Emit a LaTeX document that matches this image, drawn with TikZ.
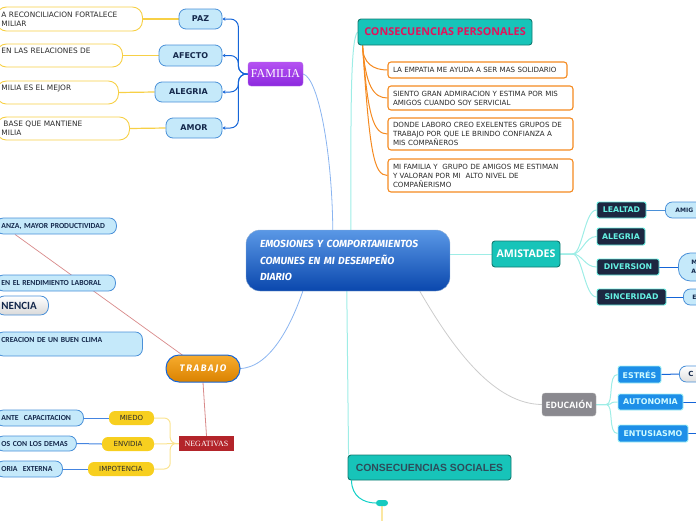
\documentclass[tikz,border=0pt]{standalone}
\usepackage{fontspec}
\setmainfont{DejaVu Sans}
\newfontfamily\serf{Liberation Serif}
\newfontfamily\arialf{Liberation Sans}
\newfontfamily\opens{Open Sans}
\newfontfamily\carl{Carlito}
\newfontfamily\fira{Fira Sans}
\usetikzlibrary{calc,arrows.meta}
\pgfdeclarelayer{bg}
\pgfsetlayers{bg,main}
\definecolor{famblue}{HTML}{1565D8}
\definecolor{lbfill}{HTML}{C5E9FA}
\definecolor{lbord}{HTML}{4A90D8}
\definecolor{navy}{HTML}{14284B}
\definecolor{ybord}{HTML}{F7D046}
\definecolor{purtop}{HTML}{B552F2}
\definecolor{purbot}{HTML}{8C28DE}
\definecolor{teal}{HTML}{17C4B9}
\definecolor{tealbord}{HTML}{127A70}
\definecolor{crimson}{HTML}{E3125B}
\definecolor{orng}{HTML}{F58A20}
\definecolor{navybox}{HTML}{1D2741}
\definecolor{cyanb}{HTML}{66F2E4}
\definecolor{edublue}{HTML}{1D8FE8}
\definecolor{eduborder}{HTML}{A8F4F4}
\definecolor{edutext}{HTML}{D0FBFF}
\definecolor{greybox}{HTML}{8A898F}
\definecolor{trabtop}{HTML}{F7AC2E}
\definecolor{trabbot}{HTML}{DA8200}
\definecolor{negred}{HTML}{B3242A}
\definecolor{yel}{HTML}{F7CF1F}
\definecolor{cstext}{HTML}{2E4C5A}
\definecolor{dtext}{HTML}{2A2A2A}
\definecolor{cyline}{HTML}{9EEDE6}
\definecolor{bluline}{HTML}{8AB4F0}
\definecolor{redline}{HTML}{D88A8A}
\definecolor{cenTop}{HTML}{5A98E6}
\definecolor{cenBot}{HTML}{0A47AD}
\tikzset{
  x=1pt, y=-1pt,
  every node/.style={inner sep=0pt},
  famchild/.style={draw=lbord, fill=lbfill, rounded corners=7, text=navy,
    font=\fontsize{8}{9}\selectfont\bfseries, line width=0.8pt},
  ybox/.style={draw=ybord, fill=white, rounded corners=10, line width=0.9pt,
    anchor=west, inner xsep=5pt, align=left, text=dtext,
    font=\fontsize{7.4}{9}\selectfont},
  lbbox/.style={draw=lbord, fill=lbfill, rounded corners=7, line width=0.8pt,
    anchor=west, inner xsep=5pt, align=left, text=navy,
    font=\carl\fontsize{7.7}{9}\selectfont\bfseries},
  smallbox/.style={draw=lbord, fill=lbfill, rounded corners=7, line width=0.8pt,
    anchor=west, align=left, text=navy,
    font=\fontsize{6}{8.5}\selectfont\bfseries},
  obox/.style={draw=orng, fill=white, rounded corners=3, line width=1.1pt,
    inner xsep=5pt, align=left, text=dtext,
    font=\fontsize{7.1}{9}\selectfont},
  amichild/.style={draw=cyanb, fill=navybox, rounded corners=2, line width=0.9pt,
    text=cyanb, font=\fontsize{7.8}{9}\selectfont\bfseries},
  educhild/.style={draw=eduborder, fill=edublue, rounded corners=2, line width=0.9pt,
    text=edutext, font=\fontsize{7.9}{9}\selectfont\bfseries},
  yelnode/.style={fill=yel, rounded corners=6, text=dtext,
    font=\fontsize{7}{8}\selectfont},
  famline/.style={draw=famblue, line width=1pt, rounded corners=8,
    -{Stealth[length=3pt,width=3.5pt]}},
  yline/.style={draw=ybord, line width=1.2pt},
  bline/.style={draw=famblue!80, line width=1pt},
  oline/.style={draw=orng, line width=1pt},
  cyline/.style={draw=cyline, line width=1pt},
  blueline/.style={draw=bluline, line width=0.8pt},
}
\begin{document}
\begin{tikzpicture}
\useasboundingbox (0,0) rectangle (696,520);
\clip (0,0) rectangle (696,520);

% ---------- central node
\node[draw=cenTop!80!black!60, top color=cenTop, bottom color=cenBot, rounded corners=14,
  minimum width=204, minimum height=61, text width=176, inner xsep=14pt, align=left,
  text=white, font=\fira\fontsize{10.3}{16.5}\selectfont\bfseries\itshape]
  (cen) at (348,260.5) {EMOSIONES Y COMPORTAMIENTOS\\COMUNES EN MI DESEMPEÑO\\DIARIO};

% ---------- FAMILIA
\node[top color=purtop, bottom color=purbot, draw=purbot!70, rounded corners=3,
  minimum width=55, minimum height=24, text=white, font=\serf\fontsize{12}{13}\selectfont]
  (fam) at (275.5,74) {FAMILIA};
\node[famchild, minimum width=43, minimum height=20] (paz) at (200.5,19) {PAZ};
\node[famchild, minimum width=63, minimum height=21] (afe) at (190.5,55.5) {AFECTO};
\node[famchild, minimum width=67, minimum height=20] (ale) at (188.5,92) {ALEGRIA};
\node[famchild, minimum width=56, minimum height=20] (amo) at (194,128) {AMOR};
\node[ybox, minimum height=24, text width=136] (pb) at (-4,19) {A RECONCILIACION FORTALECE\\MILIAR};
\node[ybox, minimum height=23, text width=116] (ab) at (-4,55.5) {EN LAS RELACIONES DE\\\mbox{}};
\node[ybox, minimum height=23, text width=112] (lb) at (-4,92.5) {MILIA ES EL MEJOR\\\mbox{}};
\node[ybox, minimum height=23, text width=123] (mb) at (-4,128.5) {\hspace{2pt}BASE QUE MANTIENE\\MILIA};

% ---------- TRABAJO
\node[draw=famblue, line width=1pt, top color=trabtop, bottom color=trabbot, rounded corners=13,
  minimum width=74, minimum height=27, text=white,
  font=\fira\fontsize{9.5}{10}\selectfont\bfseries\itshape] (trab) at (203,368.5) {T\,R\,A\,B\,A\,J\,O};
\node[lbbox, minimum height=16, text width=110] (t1) at (-4,226) {ANZA, MAYOR PRODUCTIVIDAD};
\node[lbbox, minimum height=16, text width=109] (t2) at (-4,283) {EN EL RENDIMIENTO LABORAL};
\node[draw=lbord, line width=0.8pt, top color=white, bottom color=gray!30, rounded corners=8,
  anchor=west, inner xsep=5pt, minimum height=19, text width=42, align=left, text=navy,
  font=\carl\fontsize{11}{12}\selectfont\bfseries] (t3) at (-4,305.5) {NENCIA};
\node[lbbox, minimum height=24, text width=136] (t4) at (-4,344) {CREACION DE UN BUEN CLIMA\\\mbox{}};

\node[fill=negred, minimum width=55, minimum height=15, text=white,
  font=\serf\fontsize{8}{9}\selectfont] (neg) at (206.5,443.5) {NEGATIVAS};
\node[yelnode, minimum width=45, minimum height=14] (mie) at (131.5,418) {MIEDO};
\node[yelnode, minimum width=52, minimum height=14] (env) at (128,444) {ENVIDIA};
\node[yelnode, minimum width=66, minimum height=14] (imp) at (121,469) {IMPOTENCIA};
\node[lbbox, minimum height=16, text width=77] (n1) at (-4,418) {ANTE\ \ CAPACITACION};
\node[lbbox, minimum height=15, text width=70] (n2) at (-4,443.5) {OS CON LOS DEMAS};
\node[lbbox, minimum height=16, text width=56] (n3) at (-4,469) {ORIA\ \ EXTERNA};

% ---------- CONSECUENCIAS PERSONALES
\node[fill=teal, draw=tealbord, line width=0.9pt, rounded corners=3,
  minimum width=174, minimum height=26, text=crimson,
  font=\opens\fontsize{10.8}{12}\selectfont\bfseries] (cp) at (445,32) {CONSECUENCIAS PERSONALES};
\node[obox, minimum width=179, minimum height=16, text width=169] (o1) at (477.5,70)
  {LA EMPATIA ME AYUDA A SER MAS SOLIDARIO};
\node[obox, minimum width=185, minimum height=24, text width=175] (o2) at (480.5,98)
  {SIENTO GRAN ADMIRACION Y ESTIMA POR MIS\\AMIGOS CUANDO SOY SERVICIAL};
\node[obox, minimum width=185, minimum height=32, text width=175] (o3) at (480.5,134)
  {DONDE LABORO CREO EXELENTES GRUPOS DE\\TRABAJO POR QUE LE BRINDO CONFIANZA A\\MIS COMPAÑEROS};
\node[obox, minimum width=185, minimum height=33, text width=175] (o4) at (480.5,175.5)
  {MI FAMILIA Y\ \ GRUPO DE AMIGOS ME ESTIMAN\\Y VALORAN POR MI\ \ ALTO NIVEL DE\\COMPAÑERISMO};
\coordinate (cpo) at ($(cp.south west)+(5,0)$);

% ---------- AMISTADES
\node[fill=teal, draw=tealbord, line width=0.9pt, rounded corners=3,
  minimum width=68, minimum height=26, text=white,
  font=\opens\fontsize{10.6}{12}\selectfont\bfseries] (ami) at (526,254) {AMISTADES};
\node[amichild, minimum width=49, minimum height=16] (lea) at (621.5,210) {LEALTAD};
\node[amichild, minimum width=48, minimum height=17] (aleg) at (621,236.5) {ALEGRIA};
\node[amichild, minimum width=62, minimum height=16] (div) at (628,267) {DIVERSION};
\node[amichild, minimum width=69, minimum height=16] (sin) at (631.5,297) {SINCERIDAD};
\node[smallbox, minimum height=16, inner xsep=10pt, text width=50] (amig) at (665,210) {AMIG};
\node[smallbox, minimum height=28, rounded corners=12, inner xsep=13pt, text width=50] (mr) at (678,267) {M\\A};
\node[smallbox, minimum height=16, inner xsep=9pt, text width=50] (er) at (683,297) {E};

% ---------- EDUCACION
\node[fill=greybox, draw=gray!60, rounded corners=3, minimum width=54, minimum height=23,
  text=white, font=\opens\fontsize{8.8}{10}\selectfont\bfseries] (edu) at (569,404.5) {EDUCAIÓN};
\node[educhild, minimum width=43, minimum height=17] (est) at (639.5,374.5) {ESTRÉS};
\node[educhild, minimum width=65, minimum height=16] (aut) at (650.5,402) {AUTONOMIA};
\node[educhild, minimum width=70, minimum height=17] (ent) at (653,433.5) {ENTUSIASMO};
\node[draw=lbord, line width=0.8pt, top color=white, bottom color=gray!25, rounded corners=7,
  anchor=west, inner xsep=9pt, minimum height=16, text width=50, align=left, text=navy,
  font=\fontsize{7}{8}\selectfont\bfseries] (cr) at (679,374) {C};
\coordinate (autend) at (700,402);
\coordinate (entend) at (700,433.5);

% ---------- CONSECUENCIAS SOCIALES
\node[fill=teal, draw=tealbord, line width=0.9pt, rounded corners=3,
  minimum width=163, minimum height=25, text=cstext,
  font=\arialf\fontsize{10.4}{12}\selectfont\bfseries] (cs) at (429.5,467.5) {CONSECUENCIAS SOCIALES};
\node[fill=teal!90!cyan, rounded corners=3, minimum width=12, minimum height=6] (pill) at (382,503) {};
\coordinate (botend) at (382,524);

% ---------- connectors
\begin{pgfonlayer}{bg}
  % familia
  \foreach \c in {paz,afe,ale,amo}
    \draw[famline] (fam.west) -| ($(\c.east)+(16,0)$) -- (\c.east);
  \draw[yline] (paz.west) -- (pb.east);
  \draw[yline] (afe.west) -- (ab.east);
  \draw[yline] (ale.west) -- (lb.east);
  \draw[yline] (amo.west) -- (mb.east);
  % center links
  \draw[blueline] (fam.east) .. controls (318,78) and (332,150) .. ($(cen.north west)+(87,0)$);
  \draw[cyline] ($(cen.north west)+(105,0)$) .. controls (351,120) and (350,40) .. (cp.west);
  \draw[blueline] (trab.east) .. controls (272,367) and (293,320) .. ($(cen.south west)+(57,0)$);
  \draw[cyline] ($(cen.south west)+(101,0)$) -- ($(cs.north west)+(1,0)$);
  \draw[draw=gray!40, line width=0.8pt] ($(cen.south west)+(174,0)$) .. controls (455,352) and (495,404) .. (edu.west);
  \draw[cyline] (cen.east |- ami.west) -- (ami.west);
  % consecuencias personales
  \draw[oline] (cpo) .. controls +(0,18) and +(-14,0) .. (o1.west);
  \draw[oline] (cpo) .. controls +(3,40) and +(-14,0) .. (o2.west);
  \draw[oline] (cpo) .. controls +(5,70) and +(-14,0) .. (o3.west);
  \draw[oline] (cpo) .. controls +(7,105) and +(-14,0) .. (o4.west);
  % amistades
  \foreach \c in {lea,aleg,div,sin}
    \draw[cyline] (ami.east) -- ++(12,0) .. controls +(10,0) and +(-12,0) .. (\c.west);
  \draw[draw=lbord, line width=1pt] (lea.east) -- (amig.west);
  \draw[draw=famblue, line width=1pt] (div.east) -- (mr.west);
  \draw[draw=famblue, line width=1pt] (sin.east) -- (er.west);
  % educacion
  \foreach \c in {est,aut,ent}
    \draw[cyline] (edu.east) -- ++(10,0) .. controls +(8,0) and +(-10,0) .. (\c.west);
  \draw[draw=famblue, line width=1pt] (est.east) -- (cr.west);
  \draw[draw=famblue, line width=1pt] (aut.east) -- (autend);
  \draw[draw=famblue, line width=1pt] (ent.east) -- (entend);
  % trabajo
  \draw[draw=redline, line width=0.7pt] ($(t1.south west)+(19,0)$) -- ($(trab.north)+(-20,1)$);
  \draw[draw=redline, line width=0.8pt] (trab.south) -- (neg.north);
  \draw[draw=ybord!60, line width=1pt, rounded corners=6] (neg.west) -| ($(mie.east)+(16,0)$) -- (mie.east);
  \draw[draw=ybord!60, line width=1pt] (neg.west) -- (env.east);
  \draw[draw=ybord!60, line width=1pt, rounded corners=6] (neg.west) -| ($(imp.east)+(16,0)$) -- (imp.east);
  \draw[bline] (mie.west) -- (n1.east);
  \draw[bline] (env.west) -- (n2.east);
  \draw[bline] (imp.west) -- (n3.east);
  % consecuencias sociales
  \draw[draw=teal!80!cyan, line width=1pt] ($(cs.south west)+(4,0)$) .. controls +(0,16) and +(-12,0) .. (pill.west);
  \draw[draw=ybord!50, line width=1.5pt] (pill.south) -- (botend);
\end{pgfonlayer}
\end{tikzpicture}
\end{document}
